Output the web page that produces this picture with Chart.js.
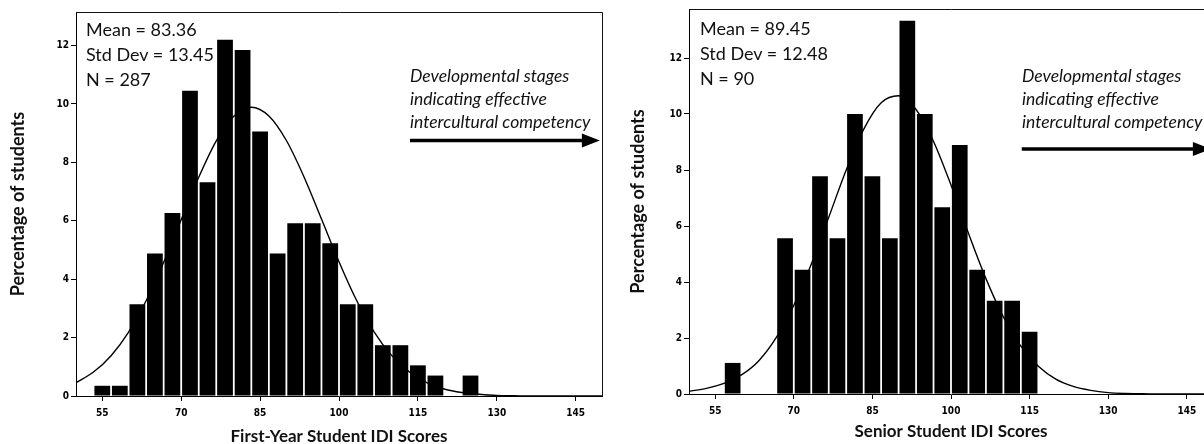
<!DOCTYPE html>
<html><head><meta charset="utf-8">
<script src="https://cdn.jsdelivr.net/npm/chart.js@4.4.1/dist/chart.umd.min.js"></script>
<style>
html,body{margin:0;padding:0;background:#fff;width:1204px;height:444px;overflow:hidden;position:relative;}
.wrap{position:absolute;top:0;height:444px;}
#w1{left:0;width:606px;}
#w2{left:604px;width:620px;}
.stats{position:absolute;font-family:Lato,sans-serif;font-size:18px;line-height:25px;color:#111;white-space:nowrap;}
.note{position:absolute;font-family:Lato,sans-serif;font-style:italic;font-size:17.5px;line-height:23px;color:#111;white-space:nowrap;}
</style></head>
<body>
<div class="wrap" id="w1"><canvas id="c1" width="606" height="444"></canvas></div>
<div class="wrap" id="w2"><canvas id="c2" width="620" height="444"></canvas></div>
<div class="stats" style="left:86px;top:17px;">Mean = 83.36<br>Std Dev = 13.45<br>N = 287</div>
<div class="stats" style="left:700px;top:16px;">Mean = 89.45<br>Std Dev = 12.48<br>N = 90</div>
<div class="note" style="left:410px;top:64px;">Developmental stages<br>indicating effective<br>intercultural competency</div>
<div class="note" style="left:1022px;top:64px;">Developmental stages<br>indicating effective<br>intercultural competency</div>
<script>
// ---- data ----
const xTicks = [55, 70, 85, 100, 115, 130, 145];
const yTicks = [0, 2, 4, 6, 8, 10, 12];

// bin midpoints (bin width 3.33)
const firstYearBins = [55, 58.33, 61.67, 65, 68.33, 71.67, 75, 78.33, 81.67, 85, 88.33, 91.67, 95, 98.33, 101.67, 105, 108.33, 111.67, 115, 118.33, 121.67, 125];
const firstYearPct  = [0.35, 0.35, 3.14, 4.88, 6.27, 10.45, 7.32, 12.20, 11.85, 9.06, 4.88, 5.92, 5.92, 5.23, 3.14, 3.14, 1.74, 1.74, 1.05, 0.70, 0, 0.70];

const seniorBins = [58.33, 61.67, 65, 68.33, 71.67, 75, 78.33, 81.67, 85, 88.33, 91.67, 95, 98.33, 101.67, 105, 108.33, 111.67, 115];
const seniorPct  = [1.11, 0, 0, 5.56, 4.44, 7.78, 5.56, 10.00, 7.78, 5.56, 13.33, 10.00, 6.67, 8.89, 4.44, 3.33, 3.33, 2.22];

// fitted normal curve points
const curveX        = [50, 53.33, 56.67, 60, 63.33, 66.67, 70, 73.33, 76.67, 80, 83.33, 86.67, 90, 93.33, 96.67, 100, 103.33, 106.67, 110, 113.33, 116.67, 120, 123.33, 126.67, 130, 133.33, 136.67, 140, 145, 150];
const firstYearCurve = [0.46, 0.82, 1.38, 2.19, 3.26, 4.58, 6.04, 7.49, 8.74, 9.58, 9.89, 9.59, 8.75, 7.51, 6.06, 4.60, 3.28, 2.20, 1.39, 0.83, 0.46, 0.24, 0.12, 0.06, 0.02, 0.01, 0, 0, 0, 0];
const seniorCurve    = [0.10, 0.20, 0.38, 0.68, 1.19, 2.02, 3.17, 4.63, 6.31, 8.00, 9.45, 10.40, 10.65, 10.16, 9.02, 7.46, 5.74, 4.12, 2.75, 1.71, 0.99, 0.53, 0.27, 0.13, 0.05, 0.02, 0.01, 0, 0, 0];

// annotation arrow (data units)
const arrowFrom = 113.5, arrowTo = 149.6, arrowAt = 8.75;

const tickFont = {family: '"DejaVu Sans Condensed", "Liberation Sans Narrow", "DejaVu Sans", sans-serif', size: 10, weight: 'bold'};
const titleFamily = 'Lato, "Open Sans", sans-serif';

const framePlugin = {
  id: 'frame',
  afterDraw(chart) {
    const {ctx, chartArea: a} = chart;
    ctx.save();
    ctx.strokeStyle = '#111';
    ctx.lineWidth = 1;
    ctx.beginPath();
    ctx.moveTo(a.left, a.top + 0.5);
    ctx.lineTo(a.right + 0.5, a.top + 0.5);
    ctx.lineTo(a.right + 0.5, a.bottom);
    ctx.stroke();
    // arrow
    const xs = chart.scales.x, ys = chart.scales.y;
    const x0 = xs.getPixelForValue(arrowFrom), x1 = xs.getPixelForValue(arrowTo);
    const y = ys.getPixelForValue(arrowAt);
    ctx.fillStyle = '#000';
    ctx.strokeStyle = '#000';
    ctx.lineWidth = 3.5;
    ctx.beginPath();
    ctx.moveTo(x0, y);
    ctx.lineTo(x1 - 14, y);
    ctx.stroke();
    ctx.beginPath();
    ctx.moveTo(x1, y);
    ctx.lineTo(x1 - 18, y - 7);
    ctx.lineTo(x1 - 18, y + 7);
    ctx.closePath();
    ctx.fill();
    ctx.restore();
  }
};

function makeChart(id, bins, pct, curve, o) {
  const barData = bins.map((b, i) => ({x: b, y: pct[i]}));
  const lineData = curveX.map((x, i) => ({x: x, y: curve[i]}));
  return new Chart(document.getElementById(id), {
    type: 'bar',
    data: {
      datasets: [
        {type: 'line', data: lineData, borderColor: '#000', borderWidth: 1.4, pointRadius: 0, fill: false, cubicInterpolationMode: 'monotone', order: 0},
        {type: 'bar', data: barData, backgroundColor: '#000', borderWidth: 0, barPercentage: 0.9, categoryPercentage: 1.0, order: 1}
      ]
    },
    options: {
      responsive: false,
      animation: false,
      layout: {padding: {left: 0, right: o.padRight, top: o.padTop, bottom: 0}},
      plugins: {legend: {display: false}, tooltip: {enabled: false}},
      scales: {
        x: {
          type: 'linear', min: 50, max: 150, offset: false,
          afterBuildTicks(s) { s.ticks = xTicks.map(v => ({value: v})); },
          afterFit(s) { s.height = o.xHeight; },
          grid: {display: true, drawOnChartArea: false, drawTicks: true, tickLength: 5, color: '#000', offset: false},
          border: {display: true, color: '#000', width: 1},
          ticks: {font: tickFont, color: '#000', padding: 6, maxRotation: 0, autoSkip: false},
          title: {display: true, text: o.xTitle, color: '#111', font: {family: titleFamily, size: 17, weight: 'bold', lineHeight: 1}, padding: {top: 0, bottom: o.xTitlePad}}
        },
        y: {
          min: 0, max: o.yMax,
          afterBuildTicks(s) { s.ticks = yTicks.map(v => ({value: v})); },
          afterFit(s) { s.width = o.yWidth; },
          grid: {display: true, drawOnChartArea: false, drawTicks: true, tickLength: 5, color: '#000'},
          border: {display: true, color: '#000', width: 1},
          ticks: {font: tickFont, color: '#000', padding: 2},
          title: {display: true, text: 'Percentage of students', color: '#111', font: {family: titleFamily, size: 18, weight: 'bold'}, padding: {top: o.yTitlePad, bottom: 0}}
        }
      }
    },
    plugins: [framePlugin]
  });
}

makeChart('c1', firstYearBins, firstYearPct, firstYearCurve,
  {padRight: 4, padTop: 12, xHeight: 48, yWidth: 76, yMax: 13.15, xTitle: 'First-Year Student IDI Scores', xTitlePad: -1, yTitlePad: 7});
makeChart('c2', seniorBins, seniorPct, seniorCurve,
  {padRight: 11, padTop: 9, xHeight: 50, yWidth: 85, yMax: 13.75, xTitle: 'Senior Student IDI Scores', xTitlePad: 4, yTitlePad: 23});
</script>
</body></html>
